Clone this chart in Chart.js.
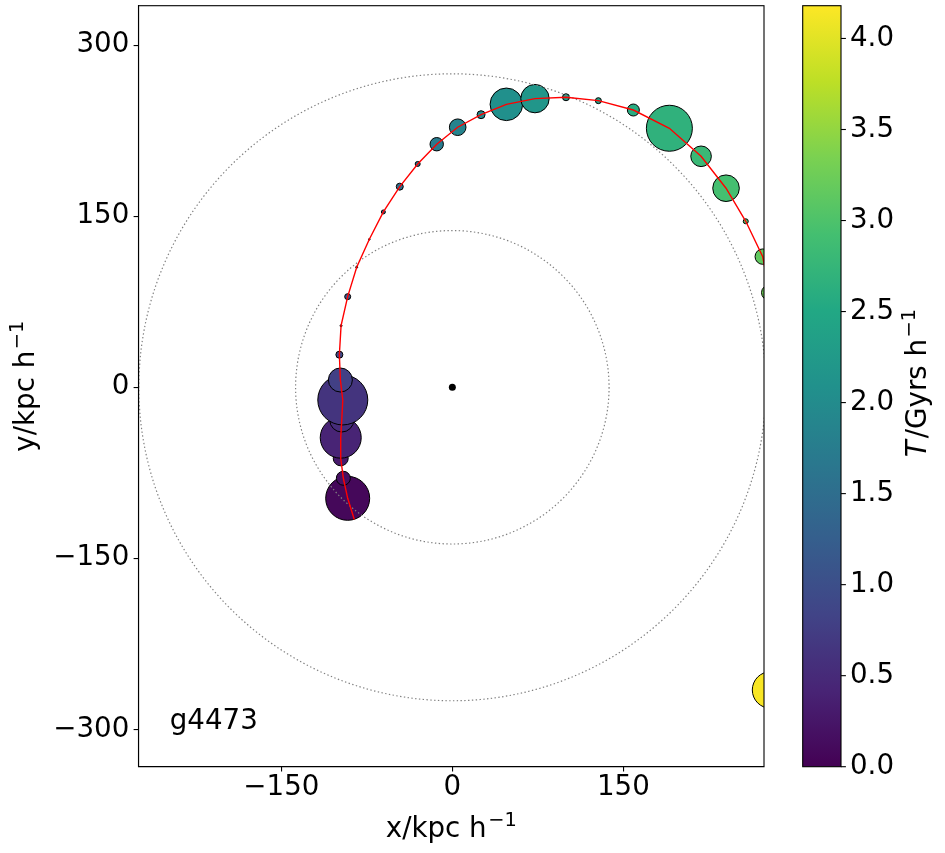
<!DOCTYPE html>
<html>
<head>
<meta charset="utf-8">
<script src="https://cdn.jsdelivr.net/npm/chart.js@4/dist/chart.umd.min.js"></script>
<style>
  html, body { margin: 0; padding: 0; background: #fff; }
</style>
</head>
<body>
<canvas id="orbit" width="945" height="853"></canvas>
<script>
// orbit of the satellite, earliest snapshot first (kpc/h)
const xKpc = [-86, -91.8, -95.6, -97.9, -97.9, -97.0, -96.1, -98.2, -99.1, -97.6, -91.8, -83.9, -72.8, -60.5, -46.1, -30.4, -13.7, 4.7, 25.2, 47.4, 72.5, 99.7, 128.1, 158.8, 190.4, 218.2, 240.1, 257.4, 272.3, 278.0, 279.2];
const yKpc = [-116, -97.4, -79.8, -62.3, -44.2, -28.7, -11.1, 6.4, 28.6, 54.0, 79.5, 105.3, 129.8, 153.8, 176.0, 195.9, 213.2, 228.1, 239.1, 248.2, 253.2, 254.4, 251.4, 243.2, 227.2, 202.6, 174.6, 145.6, 114.6, 83.0, -265.5];
const sizes = [0, 22, 7, 7.5, 20.5, 12, 25, 12, 3.5, 1, 3, 1, 0.8, 2, 3.5, 2.5, 6.7, 8.3, 4, 16.3, 14.2, 3.5, 3, 6, 23, 10.3, 13.3, 2.5, 7.7, 7.7, 18.3];
const tGyr = [0.0, 0.08, 0.18, 0.3, 0.42, 0.52, 0.63, 0.78, 0.9, 1.0, 1.1, 1.2, 1.3, 1.4, 1.5, 1.6, 1.72, 1.85, 1.95, 2.08, 2.18, 2.3, 2.42, 2.58, 2.68, 2.8, 2.92, 3.02, 3.15, 3.25, 4.15];
const ringRadii = [137.5, 275];
const xTicks = [-150, 0, 150];
const yTicks = [-300, -150, 0, 150, 300];
const cbTicks = [0, 0.5, 1.0, 1.5, 2.0, 2.5, 3.0, 3.5, 4.0];
const tMax = 4.18;
const haloName = 'g4473';

const VIRIDIS = ['#440154', '#482475', '#414487', '#355f8d', '#2a788e', '#21918c',
                 '#22a884', '#44bf70', '#7ad151', '#bddf26', '#fde725'];

function hexRgb(h) {
  return [1, 3, 5].map(i => parseInt(h.slice(i, i + 2), 16));
}

function viridis(f) {
  f = Math.max(0, Math.min(1, f));
  const p = f * (VIRIDIS.length - 1);
  const i = Math.min(Math.floor(p), VIRIDIS.length - 2);
  const a = hexRgb(VIRIDIS[i]), b = hexRgb(VIRIDIS[i + 1]);
  const u = p - i;
  const c = a.map((v, k) => Math.round(v + (b[k] - v) * u));
  return `rgb(${c[0]},${c[1]},${c[2]})`;
}

const FS = 27.7;
const FONT = {family: '"DejaVu Sans", sans-serif', size: FS};
const minus = v => String(v).replace('-', '\u2212');

// fixed box size, and no extra room for overflowing tick labels
const fixBox = (prop, val) => s => {
  s[prop] = val;
  s.paddingTop = s.paddingBottom = s.paddingLeft = s.paddingRight = 0;
};

// label with an italic part and a "−1" superscript, centred on (cx, cy)
function mathLabel(ctx, parts, cx, cy, rot) {
  const fontOf = p => (p.it ? 'italic ' : '') + (p.sup ? FS * 0.7 : FS) + 'px "DejaVu Sans"';
  const widths = parts.map(p => { ctx.font = fontOf(p); return ctx.measureText(p.t).width + (p.gap || 0); });
  const total = widths.reduce((s, w) => s + w, 0);
  ctx.save();
  ctx.translate(cx, cy);
  ctx.rotate(rot);
  ctx.fillStyle = '#000';
  ctx.textBaseline = 'alphabetic';
  ctx.textAlign = 'left';
  let x = -total / 2;
  parts.forEach((p, i) => {
    ctx.font = fontOf(p);
    ctx.fillText(p.t, x + (p.gap || 0), p.sup ? -11 : 0);
    x += widths[i];
  });
  ctx.restore();
}

const decor = {
  id: 'decor',
  afterDatasetDraw(chart, args) {
    if (args.index !== 0) return;
    const {ctx, chartArea: a, scales: {x, y}} = chart;
    ctx.save();
    ctx.beginPath();
    ctx.rect(a.left, a.top, a.right - a.left, a.bottom - a.top);
    ctx.clip();
    ctx.strokeStyle = '#808080';
    ctx.lineWidth = 1.2;
    ctx.setLineDash([1.4, 2.4]);
    const cx = x.getPixelForValue(0), cy = y.getPixelForValue(0);
    ringRadii.forEach(r => {
      const rp = x.getPixelForValue(r) - cx;
      ctx.beginPath();
      ctx.arc(cx, cy, rp, 0, Math.PI * 2);
      ctx.stroke();
    });
    ctx.restore();
  },
  afterDraw(chart) {
    const {ctx, chartArea: a, scales: {cb}} = chart;
    ctx.save();
    // frame
    ctx.strokeStyle = '#000';
    ctx.lineWidth = 1.1;
    ctx.strokeRect(a.left, a.top, a.right - a.left, a.bottom - a.top);

    // colour bar
    const bx = a.right + 38.7, bw = 38.3;
    const y0 = cb.getPixelForValue(0), y1 = cb.getPixelForValue(tMax);
    const g = ctx.createLinearGradient(0, y0, 0, y1);
    VIRIDIS.forEach((c, i) => g.addColorStop(i / (VIRIDIS.length - 1), c));
    ctx.fillStyle = g;
    ctx.fillRect(bx, y1, bw, y0 - y1);
    ctx.strokeRect(bx, y1, bw, y0 - y1);
    cbTicks.forEach(v => {
      const py = cb.getPixelForValue(v);
      ctx.beginPath();
      ctx.moveTo(bx + bw, py);
      ctx.lineTo(bx + bw + 4.9, py);
      ctx.stroke();
    });

    // halo id
    ctx.fillStyle = '#000';
    ctx.font = FS + 'px "DejaVu Sans"';
    ctx.textBaseline = 'alphabetic';
    ctx.fillText(haloName, a.left + 0.05 * (a.right - a.left), a.bottom - 0.05 * (a.bottom - a.top));
    ctx.restore();

    const midX = (a.left + a.right) / 2, midY = (a.top + a.bottom) / 2;
    mathLabel(ctx, [{t: 'x/kpc h'}, {t: '\u22121', sup: true, gap: 1.5}], midX, 837, 0);
    mathLabel(ctx, [{t: 'y/kpc h'}, {t: '\u22121', sup: true, gap: 1.5}], 34, midY, -Math.PI / 2);
    mathLabel(ctx, [{t: 'T', it: true}, {t: '/Gyrs h', gap: 2}, {t: '\u22121', sup: true, gap: 1.5}],
              a.right + 162, 383, -Math.PI / 2);
  }
};

const bubbles = xKpc.map((x, i) => ({x, y: yKpc[i], r: sizes[i]}));
const orbit = xKpc.map((x, i) => ({x, y: yKpc[i]}));

const axisGrid = {drawOnChartArea: false, tickLength: 4.9, color: '#000', lineWidth: 1.1};
const axisBorder = {color: '#000', width: 1.1};

new Chart(document.getElementById('orbit'), {
  type: 'bubble',
  data: {
    datasets: [{
      data: bubbles,
      backgroundColor: tGyr.map(t => viridis(t / tMax)),
      borderColor: '#000',
      borderWidth: 1,
      hoverRadius: 0,
      clip: 0,
      order: 2
    }, {
      type: 'line',
      data: orbit,
      borderColor: '#ff0000',
      borderWidth: 1.4,
      pointRadius: 0,
      fill: false,
      tension: 0,
      clip: 0,
      order: 1
    }, {
      data: [{x: 0, y: 0, r: 3.5}],
      backgroundColor: '#000',
      borderColor: '#000',
      borderWidth: 0,
      clip: 0,
      order: 0
    }]
  },
  options: {
    responsive: false,
    devicePixelRatio: 1,
    animation: false,
    events: [],
    layout: {autoPadding: false, padding: {top: 5.7, left: 0, right: 0, bottom: 0}},
    plugins: {legend: {display: false}, tooltip: {enabled: false}},
    scales: {
      x: {
        type: 'linear', min: -275.3, max: 273.4,
        afterBuildTicks: s => { s.ticks = xTicks.map(v => ({value: v})); },
        afterFit: fixBox('height', 86.3),
        grid: axisGrid, border: axisBorder,
        ticks: {font: FONT, color: '#000', padding: 0, maxRotation: 0, callback: minus}
      },
      y: {
        type: 'linear', min: -332.8, max: 334.7,
        afterBuildTicks: s => { s.ticks = yTicks.map(v => ({value: v})); },
        afterFit: fixBox('width', 138.5),
        grid: axisGrid, border: axisBorder,
        ticks: {font: FONT, color: '#000', padding: 4.3, callback: minus}
      },
      cb: {
        type: 'linear', axis: 'y', position: 'right', min: 0, max: tMax,
        afterBuildTicks: s => { s.ticks = cbTicks.map(v => ({value: v})); },
        afterFit: fixBox('width', 181),
        grid: {display: false, drawTicks: false},
        border: {display: false},
        ticks: {font: FONT, color: '#000', padding: 86, callback: v => v.toFixed(1)}
      }
    }
  },
  plugins: [decor]
});
</script>
</body>
</html>
